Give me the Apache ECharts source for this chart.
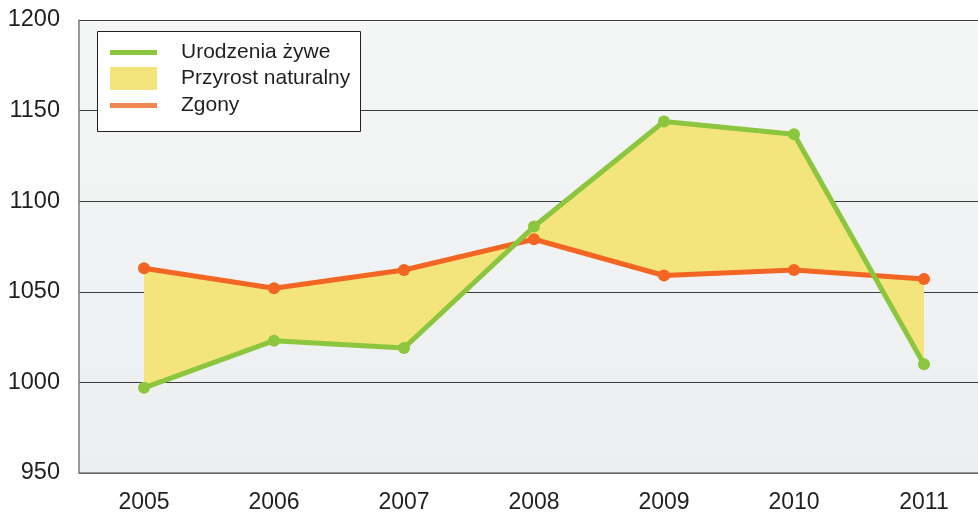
<!DOCTYPE html>
<html>
<head>
<meta charset="utf-8">
<script src="https://cdn.jsdelivr.net/npm/echarts@6/dist/echarts.min.js"></script>
<style>
  html, body { margin: 0; padding: 0; background: #fff; overflow: hidden; }
  /* wykres jest nieco szerszy niz okno - prawa krawedz jest przycieta jak w oryginale */
  #chart { width: 989px; height: 515px; }
</style>
</head>
<body>
<div id="chart"></div>
<script>
  // dane
  var years = ['2005', '2006', '2007', '2008', '2009', '2010', '2011'];
  var urodzenia = [997, 1023, 1019, 1086, 1144, 1137, 1010];
  var zgony = [1063, 1052, 1062, 1079, 1059, 1062, 1057];
  var yTicks = { min: 950, max: 1200, step: 50 };

  var green = '#8cc63f';
  var orange = '#f26522';
  var yellow = '#f3e57b';
  var font = 'Liberation Sans, Arial, sans-serif';

  var myChart = echarts.init(document.getElementById('chart'));

  // pole pomiedzy liniami (zielone w przod, pomaranczowe w tyl)
  function renderFill(params, api) {
    var pts = [];
    for (var i = 0; i < years.length; i++) pts.push(api.coord([i, urodzenia[i]]));
    for (var j = years.length - 1; j >= 0; j--) pts.push(api.coord([j, zgony[j]]));
    return {
      type: 'polygon',
      shape: { points: pts },
      style: { fill: yellow }
    };
  }

  function oneLegend(name, top, h, color) {
    return {
      left: 110,
      top: top,
      z: 20,
      padding: 0,
      orient: 'vertical',
      data: [{ name: name, icon: 'rect', itemStyle: { color: color, borderWidth: 0 } }],
      itemWidth: 47,
      itemHeight: h,
      selectedMode: false,
      textStyle: { fontSize: 21, color: '#231f20', fontFamily: font, padding: [0, 0, 0, 19] }
    };
  }

  var option = {
    animation: false,
    grid: {
      left: 79, right: 0, top: 20, bottom: 42,
      show: true,
      borderWidth: 0,
      backgroundColor: new echarts.graphic.LinearGradient(0, 0, 0, 1, [
        { offset: 0, color: '#f5f6f6' },
        { offset: 1, color: '#eceef0' }
      ])
    },
    graphic: [{
      type: 'rect',
      left: 97, top: 31, z: 10,
      shape: { width: 263, height: 100 },
      style: { fill: '#fff', stroke: '#231f20', lineWidth: 1 }
    }],
    legend: [
      oneLegend('Urodzenia żywe', 42, 5, green),
      oneLegend('Przyrost naturalny', 67, 23, yellow),
      oneLegend('Zgony', 95, 5, '#ef8751')
    ],
    xAxis: {
      type: 'category',
      data: years,
      boundaryGap: true,
      axisLine: { lineStyle: { color: '#7a7a7a', width: 1.5 } },
      axisTick: { show: false },
      axisLabel: { fontSize: 23, color: '#231f20', fontFamily: font, margin: 18 }
    },
    yAxis: {
      type: 'value',
      min: yTicks.min,
      max: yTicks.max,
      interval: yTicks.step,
      axisLine: { show: true, lineStyle: { color: '#7a7a7a', width: 1.5 } },
      axisTick: { show: false },
      axisLabel: {
        fontSize: 23.5, color: '#231f20', fontFamily: font, margin: 19,
        formatter: function (v) { return String(v); }
      },
      splitLine: { lineStyle: { color: '#3c3c3c', width: 1 } }
    },
    series: [
      {
        name: 'Przyrost naturalny',
        type: 'custom',
        data: [0],
        renderItem: renderFill,
        itemStyle: { color: yellow },
        z: 1,
        silent: true
      },
      {
        name: 'Zgony',
        type: 'line',
        data: zgony,
        z: 3,
        symbol: 'circle',
        symbolSize: 12,
        lineStyle: { color: orange, width: 5 },
        itemStyle: { color: orange }
      },
      {
        name: 'Urodzenia żywe',
        type: 'line',
        data: urodzenia,
        z: 4,
        symbol: 'circle',
        symbolSize: 12,
        lineStyle: { color: green, width: 5 },
        itemStyle: { color: green }
      }
    ]
  };

  myChart.setOption(option);
  window.addEventListener('resize', function () { myChart.resize(); });
</script>
</body>
</html>
